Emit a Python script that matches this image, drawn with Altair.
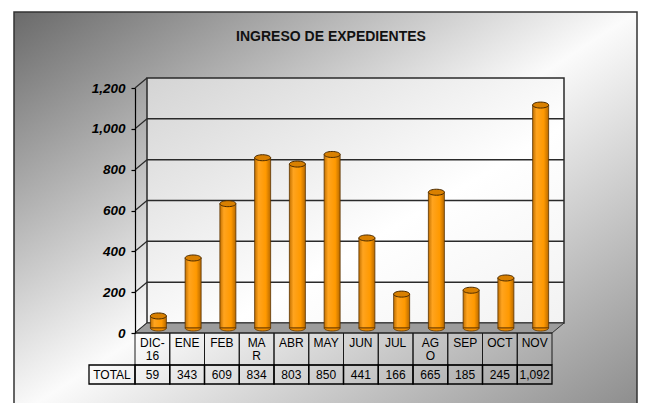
import altair as alt
import pandas as pd

# ---- data ----
categories = ["DIC-16", "ENE", "FEB", "MAR", "ABR", "MAY", "JUN", "JUL", "AGO", "SEP", "OCT", "NOV"]
cat_labels = ["DIC-\n16", "ENE", "FEB", "MA\nR", "ABR", "MAY", "JUN", "JUL", "AG\nO", "SEP", "OCT", "NOV"]
values = [59, 343, 609, 834, 803, 850, 441, 166, 665, 185, 245, 1092]
y_ticks = [0, 200, 400, 600, 800, 1000, 1200]
title_text = "INGRESO DE EXPEDIENTES"
row_header = "TOTAL"

df = pd.DataFrame({"cat": categories, "lab": cat_labels, "value": values})
ticks_df = pd.DataFrame({"t": y_ticks})
grid_df = pd.DataFrame({"t": [v for v in y_ticks if 0 < v < 1200]})

W, H = 417, 245
DX, DY = 12, -10          # depth offset of back wall
BX, BY = 6, -5            # bars sit at mid depth
FONT = "Liberation Sans"

yscale = alt.Scale(domain=[0, 1200], nice=False, zero=True)
xscale = alt.Scale(domain=categories, paddingInner=0, paddingOuter=0)
yaxis = alt.Axis(values=y_ticks, format=",.0f", labelFont=FONT, labelFontSize=13.5,
                 labelFontWeight="bold", labelFontStyle="italic", labelColor="black",
                 tickColor="black", domainColor="black", tickSize=4, labelPadding=6,
                 grid=False, title=None, domainWidth=1.2, tickWidth=1.2, zindex=2)

one = pd.DataFrame({"k": [0]})

# outer gradient box
bg = alt.Chart(one).mark_rect(
    fill=alt.Gradient(gradient="linear", x1=0, y1=0, x2=1, y2=1,
                      stops=[alt.GradientStop(offset=0, color="#6a6a6a"),
                             alt.GradientStop(offset=0.5, color="#fbfbfb"),
                             alt.GradientStop(offset=1, color="#8a8a8a")]),
    stroke="#333333", strokeWidth=1.5,
).encode(x=alt.value(-121), x2=alt.value(502), y=alt.value(-76), y2=alt.value(330))

# back wall
wall = alt.Chart(one).mark_rect(
    fill=alt.Gradient(gradient="linear", x1=0, y1=0, x2=1, y2=1,
                      stops=[alt.GradientStop(offset=0, color="#d4d4d4"),
                             alt.GradientStop(offset=0.6, color="#ffffff"),
                             alt.GradientStop(offset=1, color="#f2f2f2")]),
    stroke="#2a2a2a", strokeWidth=1.5, yOffset=DY, y2Offset=DY,
).encode(
    x=alt.value(DX), x2=alt.value(W + DX),
    y=alt.Y(datum=1200, scale=yscale, axis=yaxis),
    y2=alt.datum(0),
)

grid = alt.Chart(grid_df).mark_rule(color="#2a2a2a", strokeWidth=1.5, yOffset=DY).encode(
    y=alt.Y("t:Q", scale=yscale, axis=yaxis), x=alt.value(DX), x2=alt.value(W + DX))

conn = alt.Chart(ticks_df).mark_rule(color="#2a2a2a", strokeWidth=1.2, y2Offset=DY).encode(
    y=alt.Y("t:Q", scale=yscale, axis=yaxis), y2="t:Q", x=alt.value(0), x2=alt.value(DX))

floor_path = f"M 0 0 L {W} 0 L {W + DX} {DY} L {DX} {DY} Z"
floor = alt.Chart(one).mark_point(shape=floor_path, size=4, filled=True, fill="#9c9c9c",
                                  stroke="#333333", strokeWidth=1, opacity=1).encode(
    x=alt.value(0), y=alt.Y(datum=0, scale=yscale, axis=yaxis))

# cylinders
cyl_grad = alt.Gradient(gradient="linear", x1=0, y1=0, x2=1, y2=0,
                        stops=[alt.GradientStop(offset=0, color="#c27000"),
                               alt.GradientStop(offset=0.25, color="#ffa41f"),
                               alt.GradientStop(offset=0.7, color="#ff9900"),
                               alt.GradientStop(offset=1, color="#b86a00")])
bottom_path = "M -8 0 A 8 3 0 0 0 8 0 Z"
top_path = "M -8 0 A 8 3 0 1 0 8 0 A 8 3 0 1 0 -8 0 Z"

bars = alt.Chart(df).mark_bar(width=16, color=cyl_grad, stroke="#5a3400", strokeWidth=0.8,
                              xOffset=BX, yOffset=BY, y2Offset=BY).encode(
    x=alt.X("cat:N", scale=xscale, sort=categories, axis=None),
    y=alt.Y("value:Q", scale=yscale, axis=yaxis),
    y2=alt.datum(0),
)
bot = alt.Chart(df).mark_point(shape=bottom_path, size=4, filled=True, fill="#f08d00",
                               stroke="#5a3400", strokeWidth=0.8, opacity=1,
                               xOffset=BX, yOffset=BY).encode(
    x=alt.X("cat:N", scale=xscale, sort=categories, axis=None),
    y=alt.Y(datum=0, scale=yscale, axis=yaxis))
top = alt.Chart(df).mark_point(shape=top_path, size=4, filled=True, fill="#d98000",
                               stroke="#4a2a00", strokeWidth=1, opacity=1,
                               xOffset=BX, yOffset=BY).encode(
    x=alt.X("cat:N", scale=xscale, sort=categories, axis=None),
    y=alt.Y("value:Q", scale=yscale, axis=yaxis))

# data table
hdr_cells = alt.Chart(df).mark_rect(fillOpacity=0, stroke="#1a1a1a", strokeWidth=1).encode(
    x=alt.X("cat:N", scale=xscale, sort=categories, axis=None),
    y=alt.value(H), y2=alt.value(H + 32))
val_cells = alt.Chart(df).mark_rect(fillOpacity=0, stroke="black", strokeWidth=1.3).encode(
    x=alt.X("cat:N", scale=xscale, sort=categories, axis=None),
    y=alt.value(H + 32), y2=alt.value(H + 51))
tot_cell = alt.Chart(one).mark_rect(fillOpacity=0, stroke="black", strokeWidth=1.3).encode(
    x=alt.value(-46), x2=alt.value(0), y=alt.value(H + 32), y2=alt.value(H + 51))

hdr_text = alt.Chart(df).mark_text(font=FONT, fontSize=12, lineBreak="\n", lineHeight=13,
                                   baseline="top", color="black").encode(
    x=alt.X("cat:N", scale=xscale, sort=categories, axis=None),
    y=alt.value(H + 5), text="lab:N")
val_text = alt.Chart(df).mark_text(font=FONT, fontSize=12, baseline="middle", color="black").encode(
    x=alt.X("cat:N", scale=xscale, sort=categories, axis=None),
    y=alt.value(H + 42), text=alt.Text("value:Q", format=","))
tot_text = alt.Chart(pd.DataFrame({"s": [row_header]})).mark_text(
    font=FONT, fontSize=12, baseline="middle", color="black").encode(
    x=alt.value(-23), y=alt.value(H + 42), text="s:N")

title = alt.Chart(pd.DataFrame({"s": [title_text]})).mark_text(
    font=FONT, fontSize=14, fontWeight="bold", baseline="middle", color="#111111").encode(
    x=alt.value(196), y=alt.value(-51), text="s:N")

chart = alt.layer(
    bg, wall, grid, conn, floor, bars, bot, top,
    hdr_cells, val_cells, tot_cell, hdr_text, val_text, tot_text, title,
).properties(
    width=W, height=H, autosize="none",
    padding={"left": 127, "top": 80, "right": 86, "bottom": 80},
    background="white",
).configure_view(stroke=None)

chart.save("out.html", embed_options={"renderer": "svg", "actions": False})
